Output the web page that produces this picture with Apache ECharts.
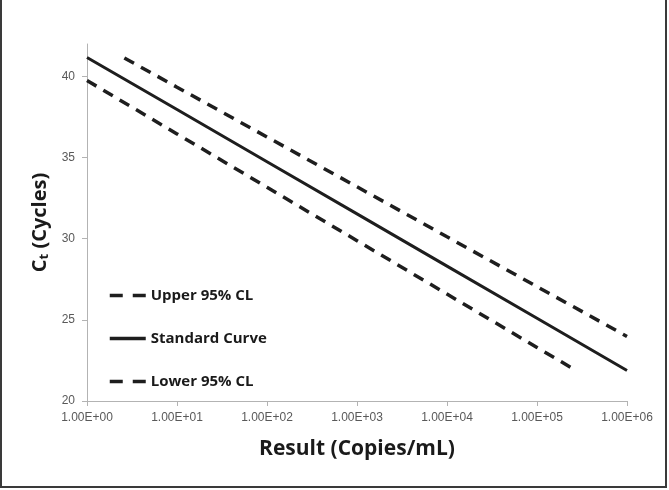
<!DOCTYPE html>
<html>
<head>
<meta charset="utf-8">
<script src="https://cdn.jsdelivr.net/npm/echarts@6/dist/echarts.min.js"></script>
<style>
html,body{margin:0;padding:0;background:#fff;}
#chart{width:669px;height:490px;}
</style>
</head>
<body>
<div id="chart"></div>
<script>
// Data
const seriesNames = ['Upper 95% CL', 'Standard Curve', 'Lower 95% CL'];
const upperX = [2.6, 10, 100, 1000, 10000, 100000, 1000000];
const upperY = [41.14, 39.34, 36.27, 33.20, 30.12, 27.05, 23.98];
const standardX = [1, 10, 100, 1000, 10000, 100000, 1000000];
const standardY = [41.17, 37.96, 34.74, 31.53, 28.31, 25.10, 21.88];
const lowerX = [1, 10, 100, 1000, 10000, 100000, 272000];
const lowerY = [39.75, 36.46, 33.17, 29.88, 26.59, 23.30, 21.88];
const xTickLabels = ['1.00E+00', '1.00E+01', '1.00E+02', '1.00E+03', '1.00E+04', '1.00E+05', '1.00E+06'];
const yTicks = [20, 25, 30, 35, 40];

function pairs(xs, ys) { return xs.map((x, i) => [x, ys[i]]); }

const chart = echarts.init(document.getElementById('chart'), null, {renderer: 'canvas'});
const axisColor = '#b3b3b3';
const labelColor = '#595959';
const lineColor = '#1e1e1e';
const dash = [11, 8];
const legendDash = [13, 10];

chart.setOption({
  animation: false,
  backgroundColor: '#ffffff',
  grid: {left: 87, right: 42, top: 44, bottom: 89, containLabel: false},
  graphic: [{
    type: 'rect',
    shape: {x: 1, y: -4, width: 665, height: 491},
    style: {fill: 'none', stroke: '#3a3a3a', lineWidth: 2},
    silent: true
  }],
  legend: {
    orient: 'vertical',
    left: 103,
    top: 283,
    itemWidth: 36,
    itemHeight: 14,
    itemGap: 28,
    data: [
      {name: seriesNames[0], lineStyle: {type: legendDash}},
      {name: seriesNames[1]},
      {name: seriesNames[2], lineStyle: {type: legendDash}}
    ],
    itemStyle: {opacity: 0},
    lineStyle: {width: 3.5},
    textStyle: {fontFamily: 'Open Sans', fontWeight: 'bold', fontSize: 15, color: '#1a1a1a'}
  },
  xAxis: {
    type: 'log',
    logBase: 10,
    min: 1,
    max: 1000000,
    name: 'Result (Copies/mL)',
    nameLocation: 'middle',
    nameGap: 38,
    nameTextStyle: {fontFamily: 'Open Sans', fontWeight: 'bold', fontSize: 21, color: '#1a1a1a'},
    axisLine: {lineStyle: {color: axisColor, width: 1}},
    axisTick: {show: true, length: 5, lineStyle: {color: axisColor}},
    splitLine: {show: false},
    axisLabel: {
      color: labelColor,
      fontFamily: 'Liberation Sans',
      fontSize: 12,
      margin: 11,
      formatter: function (v) {
        const i = Math.round(Math.log10(v));
        return xTickLabels[i] !== undefined ? xTickLabels[i] : '';
      }
    }
  },
  yAxis: {
    type: 'value',
    min: 20,
    max: 42,
    interval: 5,
    name: '{main|C}{sub|t}{main| (Cycles)}',
    nameLocation: 'middle',
    nameRotate: 90,
    nameGap: 36,
    nameTextStyle: {
      rich: {
        main: {fontFamily: 'Open Sans', fontWeight: 'bold', fontSize: 20, color: '#1a1a1a', lineHeight: 22, verticalAlign: 'bottom'},
        sub: {fontFamily: 'Open Sans', fontWeight: 'bold', fontSize: 13, color: '#1a1a1a', lineHeight: 12, padding: [12, 0, 0, 0], verticalAlign: 'bottom'}
      }
    },
    axisLine: {show: true, lineStyle: {color: axisColor, width: 1}},
    axisTick: {show: true, length: 5, lineStyle: {color: axisColor}, customValues: yTicks},
    splitLine: {show: false},
    axisLabel: {
      color: labelColor,
      fontFamily: 'Liberation Sans',
      fontSize: 12,
      margin: 12,
      customValues: yTicks
    }
  },
  series: [
    {
      name: seriesNames[0], type: 'line', data: pairs(upperX, upperY),
      symbol: 'none', lineStyle: {color: lineColor, width: 3.5, type: dash},
      itemStyle: {color: lineColor}
    },
    {
      name: seriesNames[1], type: 'line', data: pairs(standardX, standardY),
      symbol: 'none', lineStyle: {color: lineColor, width: 3, type: 'solid'},
      itemStyle: {color: lineColor}
    },
    {
      name: seriesNames[2], type: 'line', data: pairs(lowerX, lowerY),
      symbol: 'none', lineStyle: {color: lineColor, width: 3.5, type: dash},
      itemStyle: {color: lineColor}
    }
  ]
});
</script>
</body>
</html>
